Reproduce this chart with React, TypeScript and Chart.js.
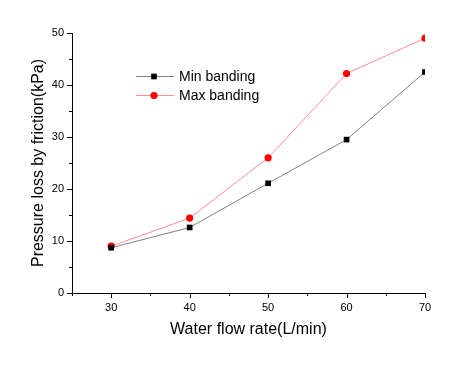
import React, { useEffect, useRef } from "react";
import { Chart, registerables } from "chart.js";

Chart.register(...registerables);

const flowRates = [30, 40, 50, 60, 70];
const minBanding = [8.7, 12.6, 21.1, 29.5, 42.5];
const maxBanding = [9.0, 14.4, 26.0, 42.2, 49.0];
const xMajorTicks = [30, 40, 50, 60, 70];
const xMinorTicks = [25, 35, 45, 55, 65];
const yMajorTicks = [0, 10, 20, 30, 40, 50];
const yMinorTicks = [5, 15, 25, 35, 45];

const FONT = "'Liberation Sans', Arial, Helvetica, sans-serif";

const axisTicksPlugin = {
  id: "axisTicks",
  afterDraw(chart: any) {
    const ctx = chart.ctx;
    const xs = chart.scales.x;
    const ys = chart.scales.y;
    const area = chart.chartArea;
    ctx.save();
    ctx.strokeStyle = "#000";
    ctx.lineWidth = 1;
    ctx.beginPath();
    const drawX = (v: number, len: number) => {
      const px = Math.round(xs.getPixelForValue(v)) + 0.5;
      ctx.moveTo(px, area.bottom);
      ctx.lineTo(px, area.bottom + len);
    };
    const drawY = (v: number, len: number) => {
      const py = Math.round(ys.getPixelForValue(v)) + 0.5;
      ctx.moveTo(area.left, py);
      ctx.lineTo(area.left - len, py);
    };
    xMajorTicks.forEach((v) => drawX(v, 5));
    xMinorTicks.forEach((v) => drawX(v, 3));
    yMajorTicks.forEach((v) => drawY(v, 5));
    yMinorTicks.forEach((v) => drawY(v, 3));
    ctx.stroke();

    // legend
    const items = chart.data.datasets;
    const x0 = 136;
    const x1 = 174;
    const xm = 154;
    const rows = [76, 95];
    ctx.font = `14px ${FONT}`;
    ctx.textBaseline = "middle";
    ctx.textAlign = "left";
    items.forEach((ds: any, i: number) => {
      const y = rows[i] + 0.5;
      ctx.strokeStyle = ds.borderColor;
      ctx.lineWidth = 1;
      ctx.beginPath();
      ctx.moveTo(x0, y);
      ctx.lineTo(x1, y);
      ctx.stroke();
      ctx.fillStyle = ds.pointBackgroundColor;
      ctx.beginPath();
      if (ds.pointStyle === "rect") {
        const s = ds.pointRadius * Math.SQRT1_2;
        ctx.rect(xm - s, y - s, 2 * s, 2 * s);
      } else {
        ctx.arc(xm, y, ds.pointRadius, 0, Math.PI * 2);
      }
      ctx.fill();
      ctx.fillStyle = "#000";
      ctx.fillText(ds.label, 179, y + 1);
    });
    ctx.restore();
  },
};

export default function App() {
  const ref = useRef<HTMLCanvasElement | null>(null);
  useEffect(() => {
    document.body.style.margin = "0";
    const canvas = ref.current;
    if (!canvas) return;
    const chart = new Chart(canvas, {
      type: "line",
      data: {
        datasets: [
          {
            label: "Min banding",
            data: flowRates.map((x, i) => ({ x, y: minBanding[i] })),
            borderColor: "rgb(128,128,128)",
            borderWidth: 1,
            pointStyle: "rect",
            pointRadius: 4,
            pointBackgroundColor: "#000",
            pointBorderWidth: 0,
            pointBorderColor: "#000",
            clip: 0,
          } as any,
          {
            label: "Max banding",
            data: flowRates.map((x, i) => ({ x, y: maxBanding[i] })),
            borderColor: "rgb(255,140,140)",
            borderWidth: 1,
            pointStyle: "circle",
            pointRadius: 3.6,
            pointBackgroundColor: "#ff0000",
            pointBorderWidth: 0,
            pointBorderColor: "#ff0000",
            clip: 0,
          } as any,
        ],
      },
      options: {
        animation: false,
        responsive: false,
        maintainAspectRatio: false,
        layout: { padding: { left: 0, right: 32, top: 33, bottom: 0 } },
        plugins: {
          legend: { display: false },
          tooltip: { enabled: false },
        },
        scales: {
          x: {
            type: "linear",
            min: 25,
            max: 70,
            afterBuildTicks: (s: any) => {
              s.ticks = xMajorTicks.map((v) => ({ value: v }));
            },
            afterFit: (s: any) => {
              s.height = 74;
            },
            grid: { display: false, drawTicks: false },
            border: { display: true, color: "#000", width: 1 },
            ticks: {
              color: "#000",
              font: { family: FONT, size: 11 },
              padding: 8,
              maxRotation: 0,
            },
            title: {
              display: true,
              text: "Water flow rate(L/min)",
              color: "#000",
              font: { family: FONT, size: 16 },
              padding: { top: 0, bottom: 28 },
            },
          },
          y: {
            type: "linear",
            min: 0,
            max: 50,
            afterBuildTicks: (s: any) => {
              s.ticks = yMajorTicks.map((v) => ({ value: v }));
            },
            afterFit: (s: any) => {
              s.width = 72;
            },
            grid: { display: false, drawTicks: false },
            border: { display: true, color: "#000", width: 1 },
            ticks: {
              color: "#000",
              font: { family: FONT, size: 11 },
              padding: 8,
            },
            title: {
              display: true,
              text: "Pressure loss by friction(kPa)",
              color: "#000",
              font: { family: FONT, size: 16 },
              padding: { top: 29, bottom: 0 },
            },
          },
        },
      },
      plugins: [axisTicksPlugin],
    });
    return () => chart.destroy();
  }, []);
  return (
    <div style={{ position: "absolute", left: 0, top: 0, width: 457, height: 367 }}>
      <canvas ref={ref} width={457} height={367} />
    </div>
  );
}
